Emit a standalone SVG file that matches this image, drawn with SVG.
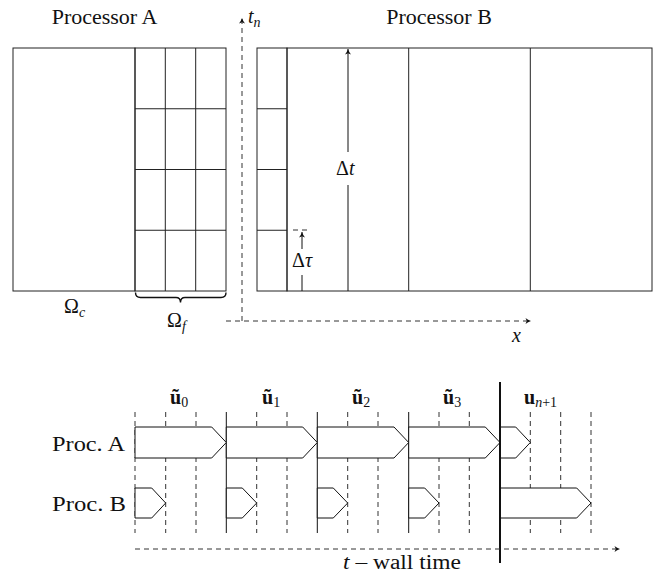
<svg xmlns="http://www.w3.org/2000/svg" width="667" height="572" viewBox="0 0 667 572">
<defs>
<style>
.ln{stroke:#111;stroke-width:1;fill:none}
.gr{stroke:#222;stroke-width:1;fill:none}
.ds{stroke:#333;stroke-width:1;stroke-dasharray:5,4;fill:none}
.bx{stroke:#111;stroke-width:1;fill:#fff}
text{font-family:"Liberation Serif","Times New Roman",serif;fill:#111}
.lb{font-size:20px}
.big{font-size:22px}
.mi{font-size:20px;font-style:italic}
.sb{font-size:14px;font-style:italic}
.bd{font-size:20px;font-weight:bold}
.sn{font-size:14px;font-weight:normal}
</style>
<marker id="ah" markerWidth="8" markerHeight="8" refX="6" refY="4" orient="auto" markerUnits="userSpaceOnUse">
<path d="M0.5,1 Q3,3 6,4 Q3,5 0.5,7 L1.8,4 Z" fill="#111"/>
</marker>
</defs>

<g id="labels-top">
<text class="big" x="104.5" y="24" text-anchor="middle">Processor A</text>
<text class="big" x="439" y="24" text-anchor="middle">Processor B</text>
</g>

<g id="omega-c">
<rect class="gr" x="13" y="48" width="122" height="243"/>
<text class="lb" x="64" y="313">Ω<tspan class="sb" dy="4">c</tspan></text>
</g>

<g id="omega-f">
<rect class="gr" x="135" y="48" width="91" height="243"/>
<path class="gr" d="M165.3,48V291M195.7,48V291M135,108.75H226M135,169.5H226M135,230.25H226"/>
<path d="M135.5,292.5 Q135.5,297.5 140.5,297.5 L176,297.5 Q180.5,297.5 180.5,302.5 Q180.5,297.5 185,297.5 L221,297.5 Q226,297.5 226,292.5" stroke="#111" stroke-width="1.4" fill="none"/>
<text class="lb" x="167" y="327">Ω<tspan class="sb" dy="4">f</tspan></text>
</g>

<g id="processor-b">
<rect class="gr" x="257" y="48" width="30" height="243"/>
<path class="gr" d="M257,108.75H287M257,169.5H287M257,230.25H287"/>
<rect class="gr" x="287" y="48" width="365" height="243"/>
<path class="gr" d="M408.7,48V291M530.3,48V291"/>
</g>

<g id="axes">
<line class="ds" x1="242" y1="321" x2="242" y2="18" marker-end="url(#ah)"/>
<line class="ds" x1="226" y1="321" x2="531" y2="321" marker-end="url(#ah)"/>
<text class="mi" x="248" y="23">t<tspan class="sb" dy="4">n</tspan></text>
<text class="mi" x="512" y="342">x</text>
</g>

<g id="dt">
<line class="ln" x1="348" y1="291" x2="348" y2="185"/>
<line class="ln" x1="348" y1="152" x2="348" y2="49" marker-end="url(#ah)"/>
<text class="lb" x="336" y="175">Δ<tspan font-style="italic">t</tspan></text>
</g>

<g id="dtau">
<line class="ln" x1="302" y1="291" x2="302" y2="275"/>
<line class="ln" x1="302" y1="249" x2="302" y2="232" marker-end="url(#ah)"/>
<line class="ds" x1="293" y1="230" x2="311" y2="230" stroke-dasharray="4,3"/>
<text class="lb" x="292" y="267">Δ<tspan font-style="italic">τ</tspan></text>
</g>

<g id="grid-lines">
<path class="ds" d="M135,412V533M165.7,412V533M196,412V533M256.7,412V533M287,412V533M347.7,412V533M378,412V533M439,412V533M469.3,412V533M530.3,412V533M560.7,412V533M591,412V533"/>
<path class="ln" d="M226.3,412V533M317.3,412V533M408.7,412V533"/>
</g>

<g id="proc-a">
<text class="lb" x="52" y="451" textLength="73" lengthAdjust="spacingAndGlyphs">Proc. A</text>
<polygon class="bx" points="135,427 211.7,427 226.3,442.5 211.7,458 135,458"/>
<polygon class="bx" points="226.3,427 302.7,427 317.3,442.5 302.7,458 226.3,458"/>
<polygon class="bx" points="317.3,427 394,427 408.7,442.5 394,458 317.3,458"/>
<polygon class="bx" points="408.7,427 485.3,427 500,442.5 485.3,458 408.7,458"/>
<polygon class="bx" points="500,427 515.7,427 530.3,442.5 515.7,458 500,458"/>
</g>

<g id="proc-b">
<text class="lb" x="52" y="511" textLength="74" lengthAdjust="spacingAndGlyphs">Proc. B</text>
<polygon class="bx" points="135,488 151.7,488 165.7,503 151.7,518 135,518"/>
<polygon class="bx" points="226.3,488 242.3,488 256.7,503 242.3,518 226.3,518"/>
<polygon class="bx" points="317.3,488 333.3,488 347.7,503 333.3,518 317.3,518"/>
<polygon class="bx" points="408.7,488 424.7,488 439,503 424.7,518 408.7,518"/>
<polygon class="bx" points="500,488 576.7,488 591,503 576.7,518 500,518"/>
</g>

<g id="iterates">
<text class="bd" x="170" y="404">ũ<tspan class="sn" dy="3">0</tspan></text>
<text class="bd" x="262" y="404">ũ<tspan class="sn" dy="3">1</tspan></text>
<text class="bd" x="352" y="404">ũ<tspan class="sn" dy="3">2</tspan></text>
<text class="bd" x="443" y="404">ũ<tspan class="sn" dy="3">3</tspan></text>
<text class="bd" x="524" y="404">u<tspan class="sn" dy="3"><tspan font-style="italic">n</tspan>+1</tspan></text>
</g>

<g id="wall-time">
<line x1="500" y1="382" x2="500" y2="563" stroke="#111" stroke-width="2"/>
<line class="ds" x1="135" y1="549" x2="620" y2="549" marker-end="url(#ah)"/>
<text class="lb" x="343" y="569" textLength="118" lengthAdjust="spacingAndGlyphs"><tspan font-style="italic">t</tspan> – wall time</text>
</g>
</svg>
